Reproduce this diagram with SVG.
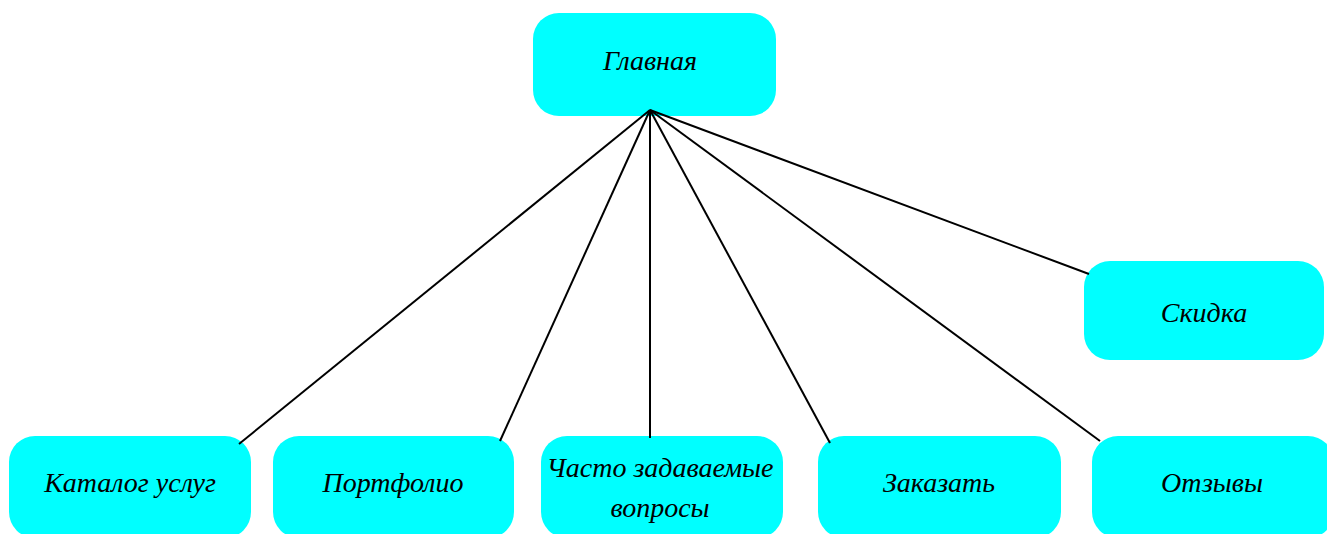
<svg xmlns="http://www.w3.org/2000/svg" width="1327" height="534" viewBox="0 0 1327 534">
<style>
.box{fill:#00ffff;}
.lbl{font-family:"Liberation Serif","DejaVu Serif",serif;font-style:italic;font-size:28px;fill:#000;text-anchor:middle;}
.edge{stroke:#000;stroke-width:2;fill:none;}
</style>
<rect width="1327" height="534" fill="#fff"/>
<g id="n-main"><rect class="box" x="533" y="13" width="243" height="103" rx="26"/><text class="lbl" x="650" y="70">Главная</text></g>
<g id="n-skidka"><rect class="box" x="1084" y="261" width="240" height="99" rx="26"/><text class="lbl" x="1204" y="322">Скидка</text></g>
<g id="n-katalog"><rect class="box" x="9" y="436" width="242" height="102" rx="26"/><text class="lbl" x="130" y="492">Каталог услуг</text></g>
<g id="n-portfolio"><rect class="box" x="273" y="436" width="241" height="102" rx="26"/><text class="lbl" x="393" y="492">Портфолио</text></g>
<g id="n-faq"><rect class="box" x="541" y="436" width="242" height="102" rx="26"/><text class="lbl" x="660" y="477">Часто задаваемые</text><text class="lbl" x="660" y="517">вопросы</text></g>
<g id="n-zakazat"><rect class="box" x="818" y="436" width="243" height="102" rx="26"/><text class="lbl" x="939" y="492">Заказать</text></g>
<g id="n-otzyvy"><rect class="box" x="1092" y="436" width="242" height="102" rx="26"/><text class="lbl" x="1212" y="492">Отзывы</text></g>
<g id="connectors">
<line class="edge" x1="650" y1="110" x2="239" y2="444"/>
<line class="edge" x1="650" y1="110" x2="500" y2="441"/>
<line class="edge" x1="650" y1="110" x2="650" y2="438"/>
<line class="edge" x1="650" y1="110" x2="830" y2="443"/>
<line class="edge" x1="650" y1="110" x2="1100" y2="441"/>
<line class="edge" x1="650" y1="110" x2="1089" y2="274"/>
</g>
</svg>
